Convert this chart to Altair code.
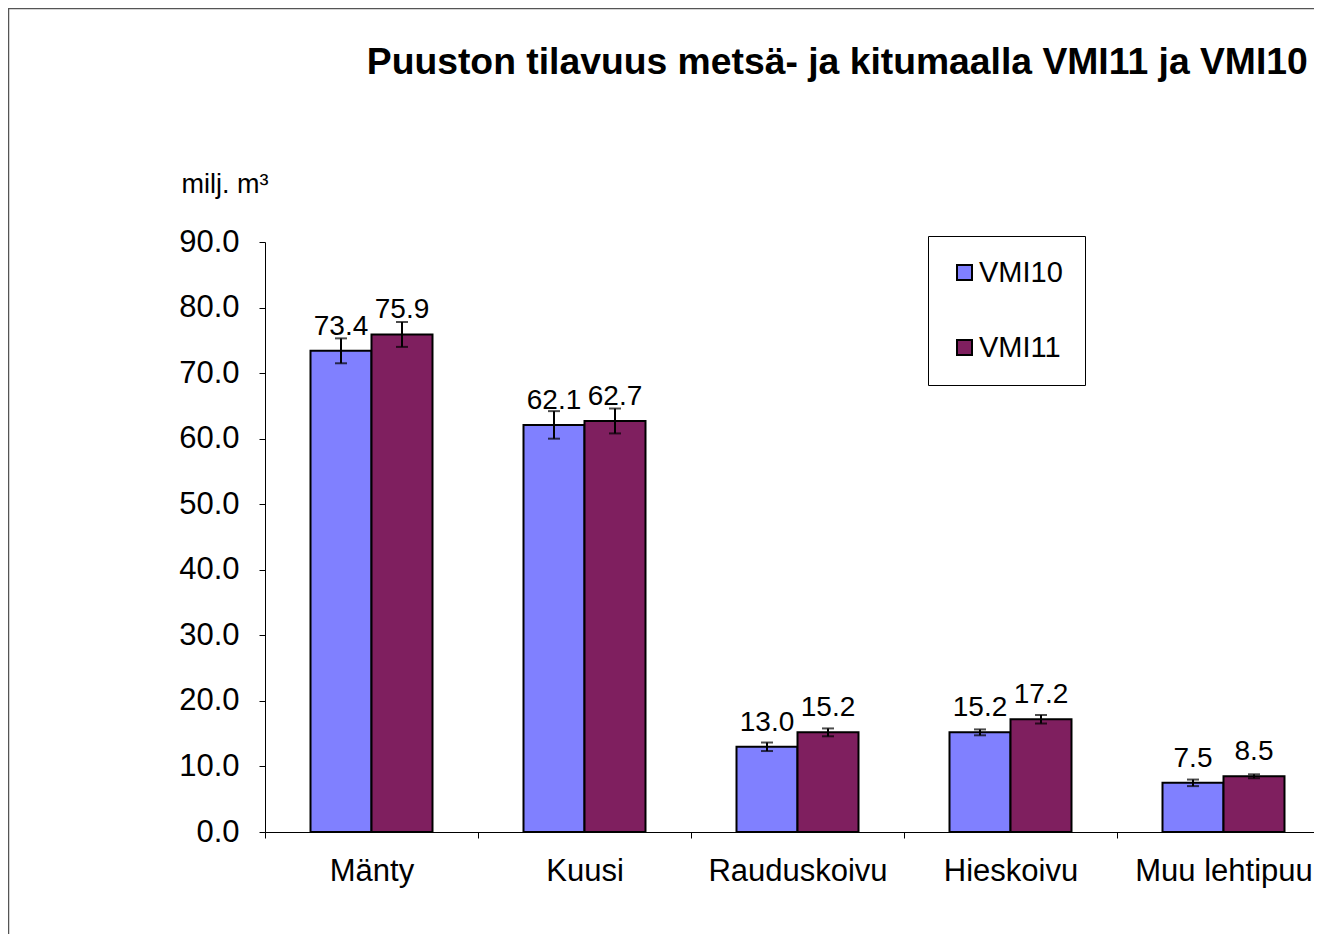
import altair as alt
import pandas as pd

categories = ["Mänty", "Kuusi", "Rauduskoivu", "Hieskoivu", "Muu lehtipuu"]
series = ["VMI10", "VMI11"]
vmi10 = [73.4, 62.1, 13.0, 15.2, 7.5]
vmi11 = [75.9, 62.7, 15.2, 17.2, 8.5]
err10 = [1.9, 2.1, 0.65, 0.45, 0.5]
err11 = [1.9, 1.9, 0.6, 0.65, 0.3]
colors = ["#8080FF", "#7F1F5F"]

rows = []
for i, c in enumerate(categories):
    for s, v, e in ((series[0], vmi10[i], err10[i]), (series[1], vmi11[i], err11[i])):
        rows.append({"laji": c, "sarja": s, "arvo": v, "lo": v - e, "hi": v + e,
                     "label": f"{v:.1f}"})
df = pd.DataFrame(rows)

FONT = "Liberation Sans"
W, H = 1049, 590

xenc = alt.X("laji:N", sort=categories, title=None,
             scale=alt.Scale(range=[0, 1065], paddingInner=0, paddingOuter=0),
             axis=alt.Axis(tickBand="extent", labelAngle=0, labelFontSize=31,
                           labelFont=FONT, labelColor="#000", labelPadding=18,
                           tickSize=6, tickColor="#000", domainColor="#000",
                           labelFontWeight="normal", grid=False))
xoff = alt.XOffset("sarja:N", sort=series,
                   scale=alt.Scale(paddingInner=0, paddingOuter=0.746))
yscale = alt.Scale(domain=[0, 90], nice=False)

base = alt.Chart(df)

bars = base.mark_bar(stroke="#000", strokeWidth=2).encode(
    x=xenc, xOffset=xoff,
    y=alt.Y("arvo:Q", scale=yscale,
            axis=alt.Axis(values=list(range(0, 91, 10)), format=".1f", grid=False,
                          labelFontSize=31, labelFont=FONT, labelColor="#000",
                          labelPadding=20, tickSize=6, tickColor="#000",
                          domainColor="#000", title="milj. m³", titleAngle=0,
                          titleFont=FONT, titleFontSize=27, titleFontWeight="normal",
                          titleColor="#000", titleX=-84, titleY=-58,
                          titleAlign="left", titleBaseline="middle")),
    color=alt.Color("sarja:N", sort=series,
                    scale=alt.Scale(domain=series, range=colors),
                    legend=alt.Legend(title=None, orient="none", legendX=663, legendY=-6,
                                      direction="vertical", symbolType="square",
                                      symbolSize=225, symbolStrokeColor="#000",
                                      symbolStrokeWidth=2, labelFont=FONT,
                                      labelFontSize=29, labelColor="#000",
                                      labelOffset=0, rowPadding=45, padding=22,
                                      strokeColor="#000", fillColor="#fff")),
)

rules = base.mark_rule(color="#000", strokeWidth=2).encode(
    x=xenc, xOffset=xoff, y=alt.Y("lo:Q", scale=yscale), y2="hi:Q")

caps_lo = base.mark_tick(color="#000", thickness=2, size=12).encode(
    x=xenc, xOffset=xoff, y=alt.Y("lo:Q", scale=yscale))
caps_hi = base.mark_tick(color="#000", thickness=2, size=12).encode(
    x=xenc, xOffset=xoff, y=alt.Y("hi:Q", scale=yscale))

labels = base.mark_text(font=FONT, fontSize=28, color="#000", baseline="alphabetic",
                        dy=-16).encode(
    x=xenc, xOffset=xoff, y=alt.Y("arvo:Q", scale=yscale), text="label:N")

frame = alt.Chart(pd.DataFrame({"f": [0]})).mark_rect(
    fill=None, stroke="#555", strokeWidth=1.5).encode(
    x=alt.value(-256.5), x2=alt.value(2000), y=alt.value(-233.5), y2=alt.value(2000))

chart = alt.layer(frame, bars, rules, caps_lo, caps_hi, labels).properties(
    width=W, height=H,
    background="#ffffff",
    title=alt.TitleParams("Puuston tilavuus metsä- ja kitumaalla VMI11 ja VMI10",
                          anchor="start", dx=359, font=FONT, fontSize=37.3,
                          fontWeight="bold", color="#000", offset=0, dy=104,
                          baseline="alphabetic"),
    autosize=alt.AutoSizeParams(type="none"),
    padding={"left": 257, "top": 234, "right": 0, "bottom": 102},
).configure_view(strokeWidth=0, strokeOpacity=0).configure_axis(grid=False)

chart.save("out.html", embed_options={"renderer": "svg", "actions": False})
